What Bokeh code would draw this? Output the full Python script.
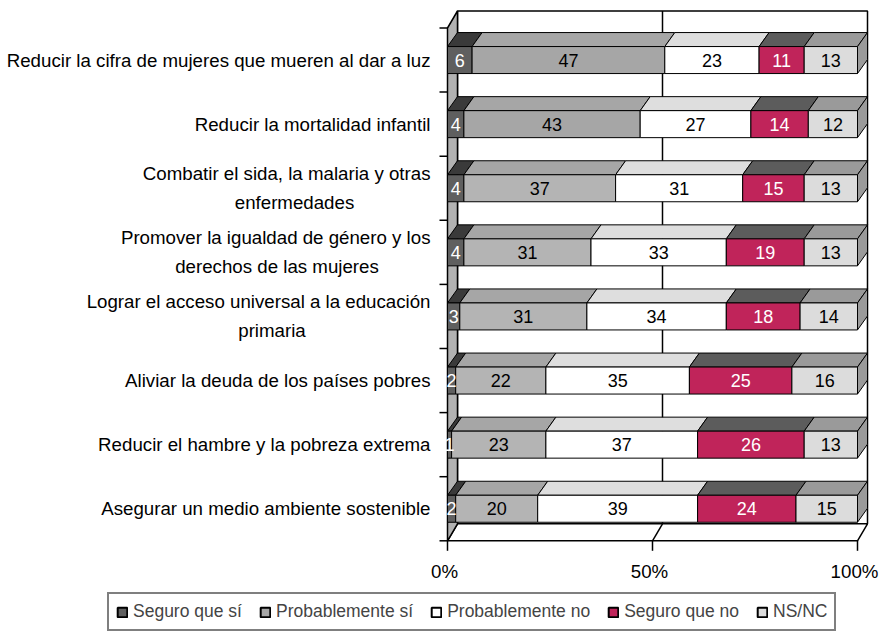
from bokeh.plotting import figure
from bokeh.models import Range1d, ColumnDataSource, Legend, LegendItem
from bokeh.core.properties import value
from bokeh.embed import file_html
from bokeh.resources import INLINE

# ---------------- data ----------------
categories = [
    "Reducir la cifra de mujeres que mueren al dar a luz",
    "Reducir la mortalidad infantil",
    "Combatir el sida, la malaria y otras\nenfermedades",
    "Promover la igualdad de género y los\nderechos de las mujeres",
    "Lograr el acceso universal a la educación\nprimaria",
    "Aliviar la deuda de los países pobres",
    "Reducir el hambre y la pobreza extrema",
    "Asegurar un medio ambiente sostenible",
]
series = ["Seguro que sí", "Probablemente sí", "Probablemente no", "Seguro que no", "NS/NC"]
seguro_si = [6, 4, 4, 4, 3, 2, 1, 2]
probable_si = [47, 43, 37, 31, 31, 22, 23, 20]
probable_no = [23, 27, 31, 33, 34, 35, 37, 39]
seguro_no = [11, 14, 15, 19, 18, 25, 26, 24]
ns_nc = [13, 12, 13, 13, 14, 16, 13, 15]
x_ticks = [0, 50, 100]
x_tick_labels = ["0%", "50%", "100%"]

values_by_series = [seguro_si, probable_si, probable_no, seguro_no, ns_nc]

# ---------------- styles ----------------
FONT_NAME = "Liberation Sans"
FONT = value(FONT_NAME)
front_colors = ["#5f5f5f", "#b4b4b4", "#ffffff", "#c0245a", "#dcdcdc"]
front_colors_row_override = {1: {0: "#a6a6a6", 1: "#a6a6a6"}}  # series 1, rows 0-1 darker
top_colors = ["#3a3a3a", "#a6a6a6", "#dedede", "#5c5c5c", "#9a9a9a"]
side_color = "#9a9a9a"
label_colors = ["white", "black", "black", "white", "black"]
legend_colors = ["#5f5f5f", "#a6a6a6", "#ffffff", "#c0245a", "#dcdcdc"]

W, H = 885, 632
PX_X = 4.1      # px per percent
X0 = 447.0      # canvas px of 0 %
PX_Y = 64.1     # px per category band
Y0 = 27.5       # canvas px of first band boundary

n = len(categories)
bar_half = 13.5 / PX_Y
bdx, bdy = 10 / PX_X, -14 / PX_Y
wdx, wdy = 10 / PX_X, -17 / PX_Y

x_range = Range1d(start=-X0 / PX_X, end=(W - X0) / PX_X)
y_range = Range1d(start=(H - Y0) / PX_Y, end=-Y0 / PX_Y)

p = figure(width=W, height=H, x_range=x_range, y_range=y_range,
           output_backend="svg", toolbar_location=None, min_border=0,
           x_axis_type=None, y_axis_type=None)
p.outline_line_color = None
p.background_fill_color = "white"
p.border_fill_color = "white"

LW = 1.5
# back wall
p.quad(left=[wdx], right=[100 + wdx], top=[wdy], bottom=[n + wdy],
       fill_color="white", line_color="black", line_width=LW)
# gridline on back wall
p.segment(x0=[50 + wdx], y0=[wdy], x1=[50 + wdx], y1=[n + wdy],
          line_color="black", line_width=LW)
# floor
p.patch(x=[0, 100, 100 + wdx, wdx], y=[n, n, n + wdy, n + wdy],
        fill_color="white", line_color="black", line_width=LW)
p.segment(x0=[50], y0=[n], x1=[50 + wdx], y1=[n + wdy],
          line_color="black", line_width=LW)
# left wall
p.patch(x=[0, wdx, wdx, 0], y=[0, wdy, n + wdy, n],
        fill_color="#b2b2b2", line_color="black", line_width=LW)

# axis ticks
tick_y = list(range(n + 1))
p.segment(x0=[-8 / PX_X] * len(tick_y), y0=tick_y, x1=[0] * len(tick_y), y1=tick_y,
          line_color="black", line_width=LW)
p.segment(x0=x_ticks, y0=[n] * len(x_ticks), x1=x_ticks, y1=[n + 10 / PX_Y] * len(x_ticks),
          line_color="black", line_width=LW)

# bars
top_xs, top_ys, top_cols = [], [], []
side_xs, side_ys = [], []
lab_x, lab_y, lab_t, lab_c = [], [], [], []
front_sources = []
for j, vals in enumerate(values_by_series):
    front_sources.append(dict(left=[], right=[], top=[], bottom=[], color=[]))
for i in range(n):
    yc = i + 0.5
    yt, yb = yc - bar_half, yc + bar_half
    start = 0.0
    for j, vals in enumerate(values_by_series):
        v = vals[i]
        end = start + v
        top_xs.append([start, end, end + bdx, start + bdx])
        top_ys.append([yt, yt, yt + bdy, yt + bdy])
        top_cols.append(top_colors[j])
        fs = front_sources[j]
        fs["left"].append(start); fs["right"].append(end)
        fs["top"].append(yt); fs["bottom"].append(yb)
        fs["color"].append(front_colors_row_override.get(j, {}).get(i, front_colors[j]))
        lab_x.append((start + end) / 2); lab_y.append(yc)
        lab_t.append(str(v)); lab_c.append(label_colors[j])
        start = end
    side_xs.append([start, start + bdx, start + bdx, start])
    side_ys.append([yt, yt + bdy, yb + bdy, yb])

p.patches(xs=top_xs, ys=top_ys, fill_color=top_cols, line_color="black", line_width=1)
p.patches(xs=side_xs, ys=side_ys, fill_color=side_color, line_color="black", line_width=1)
for j in range(len(series)):
    p.quad(left="left", right="right", top="top", bottom="bottom",
           fill_color="color", line_color="black", line_width=1,
           source=ColumnDataSource(front_sources[j]))

p.text(x=lab_x, y=lab_y, text=lab_t, text_color=lab_c, text_font=FONT,
       text_font_size="18px", text_align="center", text_baseline="middle")

# category labels
line2_center_offsets = {2: -153, 3: -170.5, 4: -175.5}
for i, cat in enumerate(categories):
    lines = cat.split("\n")
    if len(lines) == 1:
        p.text(x=[0], y=[i + 0.5], text=[lines[0]], x_offset=-17, text_font=FONT,
               text_font_size="18.7px", text_align="right", text_baseline="middle",
               text_color="black")
    else:
        p.text(x=[0], y=[i + 0.5], text=[lines[0]], x_offset=-17, y_offset=-14.5,
               text_font=FONT, text_font_size="18.7px", text_align="right",
               text_baseline="middle", text_color="black")
        p.text(x=[0], y=[i + 0.5], text=[lines[1]], x_offset=line2_center_offsets.get(i, -150),
               y_offset=14.5, text_font=FONT, text_font_size="18.7px",
               text_align="center", text_baseline="middle", text_color="black")

# x tick labels
p.text(x=x_ticks, y=[n] * len(x_ticks), text=x_tick_labels, x_offset=-3, y_offset=31,
       text_font=FONT, text_font_size="18.7px", text_align="center",
       text_baseline="middle", text_color="black")

# legend (swatch renderers with no data drawn)
legend_renderers = []
for j in range(len(series)):
    r = p.quad(left=[float("nan")], right=[float("nan")], top=[float("nan")],
               bottom=[float("nan")], fill_color=legend_colors[j],
               line_color="black", line_width=2)
    legend_renderers.append(r)
items = [LegendItem(label=series[j], renderers=[legend_renderers[j]])
         for j in range(len(series))]
legend = Legend(items=items, orientation="horizontal", location=(107, 1),
                glyph_width=12, glyph_height=12, label_standoff=5, spacing=17,
                padding=7, margin=0, label_height=20,
                label_text_font=FONT_NAME, label_text_font_size="17.5px",
                label_text_baseline="middle",
                border_line_color="black", border_line_width=2,
                background_fill_color="white", background_fill_alpha=1.0)
p.add_layout(legend)

open("out.html", "w").write(file_html(p, INLINE))
